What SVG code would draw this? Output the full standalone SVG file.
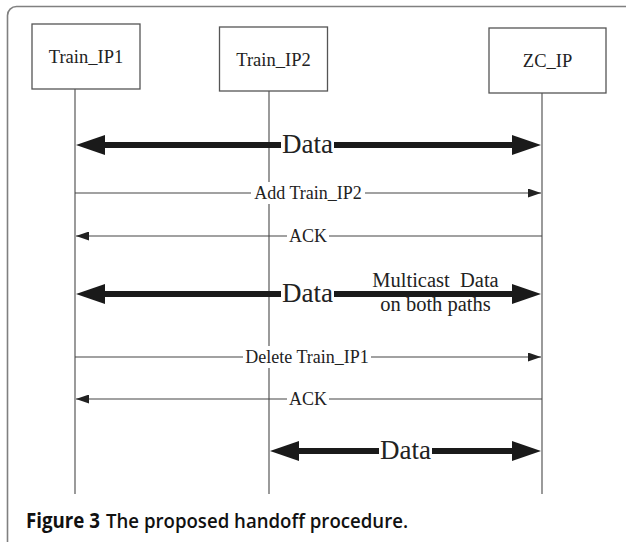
<svg xmlns="http://www.w3.org/2000/svg" width="626" height="542" viewBox="0 0 626 542">
<defs>
<style>
.frame{fill:none;stroke:#808080;stroke-width:1.6}
.box{fill:#fff;stroke:#555;stroke-width:1.3}
.life{stroke:#707070;stroke-width:1.4;fill:none}
.nt{font-family:"Liberation Serif","Times New Roman",serif;font-size:18.5px;fill:#222;text-anchor:middle}
.lbl{font-family:"Liberation Serif","Times New Roman",serif;font-size:18px;fill:#222;text-anchor:middle}
.big{font-family:"Liberation Serif","Times New Roman",serif;font-size:27px;fill:#222;text-anchor:middle}
.mc{font-family:"Liberation Serif","Times New Roman",serif;font-size:20.5px;fill:#222;text-anchor:middle;white-space:pre}
.thin{stroke:#444;stroke-width:1.1;fill:none}
.thick{stroke:#1a1a1a;stroke-width:6;fill:none}
.bg{fill:#fff}
.cap{font-family:"Open Sans","Noto Sans","Liberation Sans",sans-serif;font-size:20.5px;fill:#111}
</style>
<marker id="ah" markerUnits="userSpaceOnUse" markerWidth="13" markerHeight="9" refX="13" refY="4.5" orient="auto-start-reverse">
<path d="M0,0 L13,4.5 L0,9 z" fill="#222"/>
</marker>
<marker id="bh" markerUnits="userSpaceOnUse" markerWidth="29" markerHeight="20" refX="9" refY="10" orient="auto-start-reverse">
<path d="M0,0 L29,10 L0,20 z" fill="#1a1a1a"/>
</marker>
</defs>
<rect width="626" height="542" fill="#fff"/>
<rect class="frame" x="7.5" y="6.5" width="660" height="580" rx="9"/>

<g id="lifelines">
<line class="life" x1="75" y1="89" x2="75" y2="494"/>
<line class="life" x1="269" y1="91" x2="269" y2="494"/>
<line class="life" x1="542" y1="93" x2="542" y2="494"/>
</g>

<g id="node-train-ip1">
<rect class="box" x="32" y="24" width="108" height="65"/>
<text class="nt" x="86" y="63">Train_IP1</text>
</g>
<g id="node-train-ip2">
<rect class="box" x="219.5" y="27" width="108" height="64"/>
<text class="nt" x="273.5" y="66">Train_IP2</text>
</g>
<g id="node-zc-ip">
<rect class="box" x="489" y="28" width="117" height="65"/>
<text class="nt" x="547.5" y="67">ZC_IP</text>
</g>

<g id="connectors">
<line class="thick" x1="96" y1="145" x2="521" y2="145" marker-start="url(#bh)" marker-end="url(#bh)"/>
<rect class="bg" x="281" y="130" width="53" height="26"/>
<text class="big" x="307.5" y="153">Data</text>
<line class="thin" x1="75" y1="193" x2="541" y2="193" marker-end="url(#ah)"/>
<rect class="bg" x="251" y="182" width="114" height="22"/>
<text class="lbl" x="308" y="199">Add Train_IP2</text>
<line class="thin" x1="542" y1="236" x2="76" y2="236" marker-end="url(#ah)"/>
<rect class="bg" x="287" y="226" width="42" height="20"/>
<text class="lbl" x="308" y="242">ACK</text>
<line class="thick" x1="96" y1="294" x2="521" y2="294" marker-start="url(#bh)" marker-end="url(#bh)"/>
<rect class="bg" x="281" y="279" width="53" height="26"/>
<text class="big" x="307.5" y="302">Data</text>
<rect class="bg" x="367" y="268" width="138" height="21"/>
<rect class="bg" x="375" y="298" width="122" height="19"/>
<text class="mc" x="435.5" y="287" xml:space="preserve">Multicast  Data</text>
<text class="mc" x="435.5" y="311">on both paths</text>
<line class="thin" x1="75" y1="357" x2="541" y2="357" marker-end="url(#ah)"/>
<rect class="bg" x="243" y="346" width="128" height="22"/>
<text class="lbl" x="307" y="363">Delete Train_IP1</text>
<line class="thin" x1="542" y1="399" x2="76" y2="399" marker-end="url(#ah)"/>
<rect class="bg" x="287" y="389" width="42" height="20"/>
<text class="lbl" x="308" y="405">ACK</text>
<line class="thick" x1="290" y1="451" x2="521" y2="451" marker-start="url(#bh)" marker-end="url(#bh)"/>
<rect class="bg" x="379" y="436" width="53" height="26"/>
<text class="big" x="405.5" y="459">Data</text>
</g>

<text class="cap" x="26" y="528" font-weight="700" textLength="74" lengthAdjust="spacingAndGlyphs">Figure 3</text>
<text class="cap" x="106" y="528" font-weight="600" textLength="302" lengthAdjust="spacingAndGlyphs">The proposed handoff procedure.</text>
</svg>
